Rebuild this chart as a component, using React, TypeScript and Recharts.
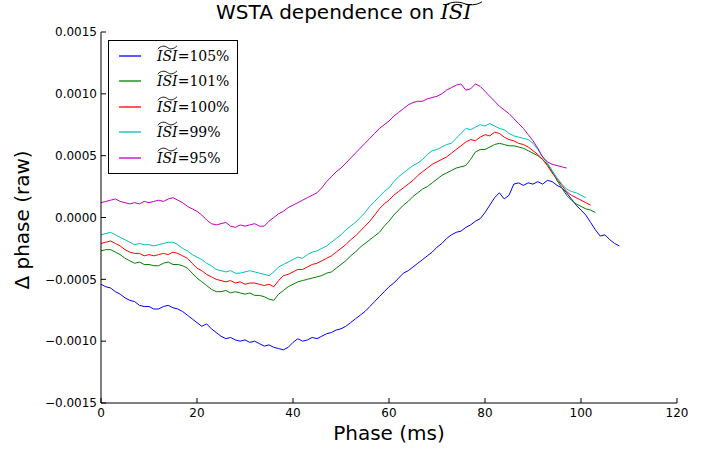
import React from 'react';
import { LineChart, Line, XAxis, YAxis, Legend } from 'recharts';

document.body.style.margin = '0';

const xTicks = [0, 20, 40, 60, 80, 100, 120];
const yTicks = [-0.0015, -0.001, -0.0005, 0, 0.0005, 0.001, 0.0015];
const yTickLabels = ['\u22120.0015', '\u22120.0010', '\u22120.0005', '0.0000', '0.0005', '0.0010', '0.0015'];

// delta phase (raw), one value per ms of phase, starting at 0 ms
const isi105 = [
  -54e-5, -56e-5, -57e-5, -60e-5, -62e-5, -65e-5, -67e-5, -68e-5, -71e-5, -72e-5,
  -72e-5, -74e-5, -74e-5, -72e-5, -71e-5, -73e-5, -74e-5, -76e-5, -79e-5, -82e-5,
  -85e-5, -88e-5, -86e-5, -90e-5, -93e-5, -96e-5, -98e-5, -97e-5, -99e-5, -100e-5,
  -99e-5, -101e-5, -100e-5, -102e-5, -104e-5, -103e-5, -105e-5, -106e-5, -107e-5, -105e-5,
  -101e-5, -98e-5, -100e-5, -99e-5, -97e-5, -98e-5, -96e-5, -94e-5, -93e-5, -91e-5,
  -90e-5, -88e-5, -85e-5, -82e-5, -79e-5, -76e-5, -72e-5, -68e-5, -64e-5, -60e-5,
  -56e-5, -53e-5, -49e-5, -45e-5, -43e-5, -40e-5, -37e-5, -34e-5, -31e-5, -28e-5,
  -24e-5, -21e-5, -17e-5, -14e-5, -12e-5, -11e-5, -8e-5, -6e-5, -3e-5, -1e-5,
  4e-5, 10e-5, 16e-5, 20e-5, 15e-5, 18e-5, 27e-5, 28e-5, 26e-5, 28e-5,
  27e-5, 29e-5, 27e-5, 30e-5, 29e-5, 26e-5, 24e-5, 20e-5, 15e-5, 10e-5,
  6e-5, 2e-5, -4e-5, -10e-5, -15e-5, -14e-5, -18e-5, -21e-5, -23e-5,
];

const isi101 = [
  -27e-5, -26e-5, -26e-5, -28e-5, -30e-5, -33e-5, -35e-5, -37e-5, -36e-5, -38e-5,
  -38e-5, -39e-5, -39e-5, -37e-5, -36e-5, -38e-5, -38e-5, -39e-5, -41e-5, -45e-5,
  -49e-5, -52e-5, -55e-5, -58e-5, -60e-5, -60e-5, -59e-5, -61e-5, -60e-5, -61e-5,
  -62e-5, -61e-5, -63e-5, -63e-5, -64e-5, -66e-5, -67e-5, -62e-5, -59e-5, -56e-5,
  -54e-5, -52e-5, -51e-5, -50e-5, -49e-5, -48e-5, -47e-5, -45e-5, -44e-5, -41e-5,
  -38e-5, -35e-5, -31e-5, -28e-5, -24e-5, -21e-5, -18e-5, -15e-5, -12e-5, -7e-5,
  -3e-5, 2e-5, 6e-5, 10e-5, 13e-5, 17e-5, 20e-5, 23e-5, 25e-5, 28e-5,
  31e-5, 34e-5, 36e-5, 38e-5, 40e-5, 41e-5, 42e-5, 47e-5, 53e-5, 55e-5,
  55e-5, 57e-5, 59e-5, 60e-5, 59e-5, 58e-5, 58e-5, 57e-5, 56e-5, 54e-5,
  52e-5, 50e-5, 47e-5, 43e-5, 37e-5, 30e-5, 24e-5, 18e-5, 14e-5, 11e-5,
  9e-5, 7e-5, 6e-5, 4e-5,
];

const isi100 = [
  -21e-5, -20e-5, -19e-5, -21e-5, -23e-5, -26e-5, -28e-5, -29e-5, -29e-5, -31e-5,
  -30e-5, -31e-5, -30e-5, -29e-5, -30e-5, -28e-5, -29e-5, -31e-5, -33e-5, -37e-5,
  -41e-5, -43e-5, -46e-5, -48e-5, -50e-5, -51e-5, -52e-5, -51e-5, -53e-5, -52e-5,
  -54e-5, -53e-5, -53e-5, -54e-5, -55e-5, -54e-5, -56e-5, -51e-5, -47e-5, -46e-5,
  -44e-5, -42e-5, -42e-5, -40e-5, -38e-5, -37e-5, -35e-5, -33e-5, -31e-5, -28e-5,
  -25e-5, -22e-5, -18e-5, -15e-5, -11e-5, -7e-5, -3e-5, 2e-5, 7e-5, 11e-5,
  14e-5, 18e-5, 21e-5, 24e-5, 27e-5, 30e-5, 34e-5, 37e-5, 40e-5, 43e-5,
  45e-5, 47e-5, 49e-5, 52e-5, 55e-5, 58e-5, 61e-5, 63e-5, 62e-5, 65e-5,
  67e-5, 66e-5, 69e-5, 68e-5, 65e-5, 63e-5, 62e-5, 60e-5, 59e-5, 57e-5,
  54e-5, 51e-5, 47e-5, 42e-5, 36e-5, 31e-5, 26e-5, 21e-5, 18e-5, 16e-5,
  14e-5, 12e-5, 10e-5,
];

const isi99 = [
  -14e-5, -13e-5, -12e-5, -14e-5, -16e-5, -18e-5, -20e-5, -22e-5, -21e-5, -22e-5,
  -22e-5, -23e-5, -22e-5, -21e-5, -20e-5, -20e-5, -22e-5, -25e-5, -27e-5, -30e-5,
  -32e-5, -34e-5, -37e-5, -39e-5, -42e-5, -43e-5, -44e-5, -43e-5, -45e-5, -45e-5,
  -44e-5, -43e-5, -44e-5, -45e-5, -46e-5, -47e-5, -44e-5, -40e-5, -38e-5, -36e-5,
  -34e-5, -32e-5, -33e-5, -30e-5, -28e-5, -27e-5, -25e-5, -23e-5, -20e-5, -17e-5,
  -14e-5, -10e-5, -7e-5, -4e-5, 0, 4e-5, 9e-5, 13e-5, 17e-5, 21e-5,
  24e-5, 29e-5, 33e-5, 36e-5, 39e-5, 42e-5, 44e-5, 47e-5, 51e-5, 54e-5,
  55e-5, 57e-5, 59e-5, 60e-5, 64e-5, 68e-5, 72e-5, 71e-5, 73e-5, 75e-5,
  74e-5, 76e-5, 74e-5, 72e-5, 71e-5, 68e-5, 66e-5, 65e-5, 64e-5, 63e-5,
  60e-5, 55e-5, 49e-5, 44e-5, 38e-5, 32e-5, 27e-5, 23e-5, 21e-5, 20e-5,
  18e-5, 16e-5,
];

const isi95 = [
  12e-5, 13e-5, 14e-5, 15e-5, 13e-5, 12e-5, 11e-5, 12e-5, 11e-5, 13e-5,
  12e-5, 13e-5, 14e-5, 13e-5, 15e-5, 16e-5, 14e-5, 12e-5, 9e-5, 7e-5,
  5e-5, 2e-5, -2e-5, -5e-5, -6e-5, -5e-5, -4e-5, -7e-5, -8e-5, -6e-5,
  -7e-5, -6e-5, -5e-5, -7e-5, -7e-5, -3e-5, 0, 3e-5, 5e-5, 8e-5,
  10e-5, 12e-5, 14e-5, 16e-5, 18e-5, 20e-5, 24e-5, 29e-5, 33e-5, 37e-5,
  40e-5, 44e-5, 48e-5, 52e-5, 56e-5, 60e-5, 64e-5, 68e-5, 72e-5, 75e-5,
  78e-5, 82e-5, 85e-5, 88e-5, 91e-5, 93e-5, 94e-5, 94e-5, 96e-5, 97e-5,
  98e-5, 100e-5, 103e-5, 105e-5, 107e-5, 108e-5, 103e-5, 104e-5, 108e-5, 106e-5,
  102e-5, 98e-5, 94e-5, 90e-5, 87e-5, 84e-5, 80e-5, 76e-5, 72e-5, 67e-5,
  62e-5, 56e-5, 49e-5, 45e-5, 43e-5, 42e-5, 41e-5, 40e-5,
];

const series = [
  { key: 'isi105', label: '105%', values: isi105, color: '#0000ff' },
  { key: 'isi101', label: '101%', values: isi101, color: '#008000' },
  { key: 'isi100', label: '100%', values: isi100, color: '#ff0000' },
  { key: 'isi99', label: '99%', values: isi99, color: '#00bfbf' },
  { key: 'isi95', label: '95%', values: isi95, color: '#bf00bf' },
];

const maxLen = Math.max(...series.map((s) => s.values.length));
const rows = Array.from({ length: maxLen }, (_, i) => {
  const row: Record<string, number | null> = { phase: i };
  series.forEach((s) => {
    row[s.key] = i < s.values.length ? s.values[i] : null;
  });
  return row;
});

const tickStyle = { fill: '#000', fontSize: 12, fontFamily: 'DejaVu Sans' };

const fmtY = (v: number) => {
  const i = yTicks.findIndex((t) => Math.abs(t - v) < 1e-9);
  return i >= 0 ? yTickLabels[i] : String(v);
};

const Tilde = ({ top }: { top: number }) => (
  <svg
    style={{ position: 'absolute', left: 0, top, width: '100%', height: 5, overflow: 'visible' }}
    viewBox="0 0 30 5"
    preserveAspectRatio="none"
  >
    <path d="M1,4.2 C6,0.5 11,0.5 15,2.5 S24,4.5 29,0.8" stroke="#000" strokeWidth={0.9} fill="none" vectorEffect="non-scaling-stroke" />
  </svg>
);

const LegendBox = () => (
  <div
    style={{
      border: '1px solid #000',
      background: '#fff',
      padding: '2px 0',
      width: 130,
      boxSizing: 'border-box',
    }}
  >
    {series.map((s) => (
      <div key={s.key} style={{ display: 'flex', alignItems: 'center', height: 25.5 }}>
        <svg width={22} height={4} style={{ marginLeft: 10, display: 'block' }}>
          <line x1={0} y1={2} x2={22} y2={2} stroke={s.color} strokeWidth={1.3} />
        </svg>
        <span style={{ marginLeft: 16, fontFamily: 'DejaVu Serif', fontSize: 14, whiteSpace: 'nowrap', color: '#000' }}>
          <span style={{ fontStyle: 'italic', position: 'relative', display: 'inline-block' }}>
            ISI
            <Tilde top={-3} />
          </span>
          ={s.label}
        </span>
      </div>
    ))}
  </div>
);

const emptyTick = () => <g />;

export default function App() {
  return (
    <div style={{ position: 'relative', width: 708, height: 450, background: '#fff' }}>
      <LineChart width={708} height={450} data={rows} margin={{ top: 32, right: 31, bottom: 17, left: 41 }}>
        <XAxis
          dataKey="phase"
          type="number"
          domain={[0, 120]}
          ticks={xTicks}
          allowDataOverflow
          height={30}
          tick={tickStyle}
          tickSize={-5}
          tickMargin={10}
          stroke="#000"
          tickLine={{ stroke: '#000' }}
        />
        <XAxis
          xAxisId="top"
          orientation="top"
          dataKey="phase"
          type="number"
          domain={[0, 120]}
          ticks={xTicks}
          allowDataOverflow
          height={0}
          tick={emptyTick}
          tickSize={-5}
          stroke="#000"
        />
        <YAxis
          type="number"
          domain={[-0.0015, 0.0015]}
          ticks={yTicks}
          allowDataOverflow
          width={60}
          tick={tickStyle}
          tickFormatter={fmtY}
          tickSize={-5}
          tickMargin={9}
          stroke="#000"
          tickLine={{ stroke: '#000' }}
        />
        <YAxis
          yAxisId="right"
          orientation="right"
          type="number"
          domain={[-0.0015, 0.0015]}
          ticks={yTicks}
          allowDataOverflow
          width={0}
          tick={emptyTick}
          tickSize={-5}
          stroke="#000"
        />
        <Legend
          layout="vertical"
          align="center"
          verticalAlign="middle"
          content={() => <LegendBox />}
          wrapperStyle={{ left: 108, top: 40, width: 130 }}
        />
        {series.map((s) => (
          <Line
            key={s.key}
            dataKey={s.key}
            name={s.label}
            type="linear"
            stroke={s.color}
            strokeWidth={1}
            dot={false}
            activeDot={false}
            connectNulls={false}
            isAnimationActive={false}
          />
        ))}
      </LineChart>
      <svg
        width={708}
        height={450}
        style={{ position: 'absolute', left: 0, top: 0, pointerEvents: 'none' }}
      >
        <text x={216} y={19} fontFamily="DejaVu Sans" fontSize={20} fill="#000">
          WSTA dependence on{' '}
          <tspan fontFamily="DejaVu Serif" fontStyle="italic" fontSize={21}>ISI</tspan>
        </text>
        <path d="M445,5 C452,1.5 459,1.5 464,3.5 S476,5.5 482,1.8" stroke="#000" strokeWidth={1} fill="none" />
        <text x={389} y={440} textAnchor="middle" fontFamily="DejaVu Sans" fontSize={20} fill="#000">
          Phase (ms)
        </text>
        <text
          transform="translate(29,220) rotate(-90)"
          textAnchor="middle"
          fontFamily="DejaVu Sans"
          fontSize={20}
          fill="#000"
        >
          {'\u0394 phase (raw)'}
        </text>
      </svg>
    </div>
  );
}
